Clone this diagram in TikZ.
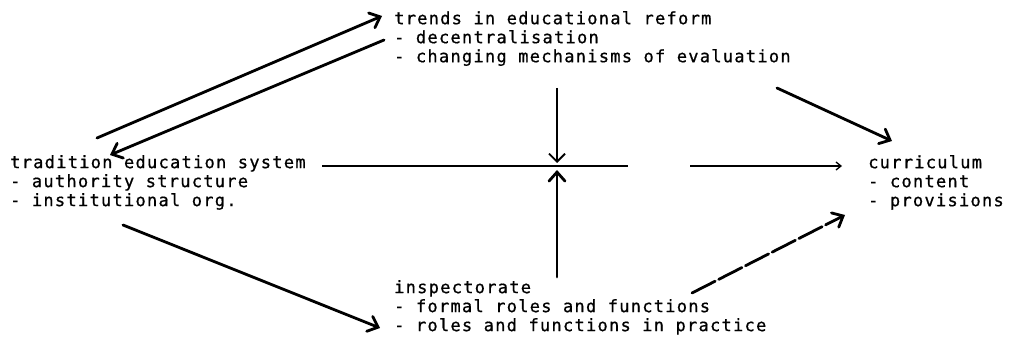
\documentclass[tikz,border=0pt]{standalone}
\usepackage{fontspec}
\newfontfamily\diagfont[LetterSpace=7.5,FakeBold=0.8]{DejaVu Sans Mono}
\usetikzlibrary{arrows.meta,calc}
\begin{document}
\begin{tikzpicture}[x=1pt,y=-1pt,
  txt/.style={font=\diagfont\fontsize{17}{19}\selectfont, align=left, inner sep=0pt, anchor=north west},
  big/.style={line width=2.8pt, line cap=round, -{Straight Barb[length=9pt,width=16pt,line cap=round]}},
  thin/.style={line width=1.3pt},
  dashy/.style={big, dash pattern=on 26pt off 4pt}]
\useasboundingbox (0,0) rectangle (1010,344);

\node[txt] (trends) at (394,11) {trends in educational reform\\- decentralisation\\- changing mechanisms of evaluation};
\node[txt] (trad) at (10,155) {tradition education system\\- authority structure\\- institutional org.};
\node[txt] (curr) at (868,155) {curriculum\\- content\\- provisions};
\node[txt] (insp) at (394,280) {inspectorate\\- formal roles and functions\\- roles and functions in practice};

\draw[big] ($(trad.north west)+(87,-17)$) -- ($(trends.north west)+(-12,5)$);
\draw[big] ($(trends.north west)+(-10,29)$) -- ($(trad.north west)+(100,0)$);
\draw[thin] ($(trad.north west)+(312,11)$) -- ($(trends.north west)+(234,155)$);
\draw[thin,-{Straight Barb[length=5pt,width=8pt]}] ($(curr.north west)+(-178,11)$) -- ($(curr.north west)+(-26,11)$);
\draw[line width=1.8pt,-{Straight Barb[length=8pt,width=16pt]}] ($(trends.north west)+(163,77)$) -- ($(trends.north west)+(163,152)$);
\draw[big] ($(insp.north west)+(163,-3)$) -- ($(insp.north west)+(163,-110)$);
\draw[big] ($(trends.north west)+(383,77)$) -- ($(curr.north west)+(24,-14)$);
\draw[big] ($(trad.north west)+(113,70)$) -- ($(insp.north west)+(-14,48)$);
\draw[dashy] ($(insp.north west)+(298,13)$) -- ($(curr.north west)+(-23,60)$);
\end{tikzpicture}
\end{document}
